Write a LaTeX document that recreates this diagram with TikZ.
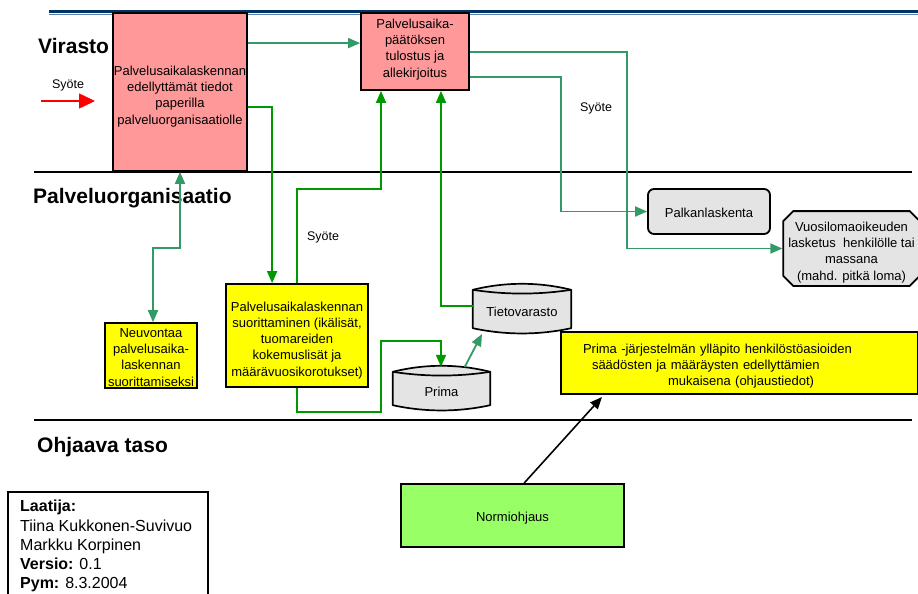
\documentclass[tikz,border=0pt]{standalone}
\usepackage{fontspec}
\setmainfont{Liberation Sans}
\usetikzlibrary{arrows.meta,shapes.misc,calc,backgrounds}
\definecolor{pinkbox}{HTML}{FF9999}
\definecolor{yelbox}{HTML}{FFFF00}
\definecolor{greybox}{HTML}{E4E4E4}
\definecolor{normgreen}{HTML}{99FF66}
\definecolor{seag}{HTML}{339966}
\definecolor{darkg}{HTML}{009900}
\definecolor{navyline}{HTML}{003366}
\definecolor{lightnavy}{HTML}{5A7FA8}
\newcommand\drumshape[1]{%
  \draw[fill=greybox, line width=1.7pt, line join=round]
    ($(#1.north west)+(0,5)$)
      .. controls ($(#1.north west)!0.33!(#1.north east)+(0,-3)$) and ($(#1.north west)!0.67!(#1.north east)+(0,-3)$) ..
    ($(#1.north east)+(0,5)$) -- ($(#1.south east)+(0,-4)$)
      .. controls ($(#1.south west)!0.67!(#1.south east)+(0,3)$) and ($(#1.south west)!0.33!(#1.south east)+(0,3)$) ..
    ($(#1.south west)+(0,-4)$) -- cycle;
  \draw[line width=1.7pt]
    ($(#1.north west)+(0,5)$)
      .. controls ($(#1.north west)!0.33!(#1.north east)+(0,10)$) and ($(#1.north west)!0.67!(#1.north east)+(0,10)$) ..
    ($(#1.north east)+(0,5)$);
}
\newcommand\lowered[2]{\raisebox{-#1}[\height][\depth]{#2}}
\begin{document}
\begin{tikzpicture}[x=1pt,y=-1pt,
  box/.style={draw=black, line width=1.8pt, inner sep=0pt, align=center,
    font=\fontsize{13}{16.2}\selectfont},
  plain/.style={inner sep=0pt, align=center, font=\fontsize{13}{16.2}\selectfont},
  lanelabel/.style={inner sep=0pt, anchor=base west, font=\fontsize{21}{24}\selectfont\bfseries},
  syote/.style={inner sep=0pt, font=\fontsize{12.5}{15}\selectfont},
  tip/.style={-{Triangle[length=12pt,width=10pt]}},
  sgline/.style={draw=seag, line width=1.8pt, tip},
  dgline/.style={draw=darkg, line width=1.8pt, tip},
  sep/.style={draw=black, line width=1.8pt}
]
\useasboundingbox (0,0) rectangle (918,594);

% top rule and lane separators
\draw[navyline, line width=3.2pt] (49,11.5) -- (918,11.5);
\draw[lightnavy, line width=1pt] (49,14.8) -- (918,14.8);
\draw[sep] (34,172) -- (912,172);
\draw[sep] (34,420) -- (912,420);

% lane labels
\node[lanelabel] (lvir) at (38,53) {Virasto};
\node[lanelabel] (lpal) at (33,203) {Palveluorganisaatio};
\node[lanelabel] (lohj) at (37,452) {Ohjaava taso};

% input arrow
\node[syote] (syo1) at (68,85) {Syöte};
\coordinate (sin) at (41,101);
\coordinate (sout) at (95,101);
\draw[red, line width=1.5pt, -{Triangle[length=16pt,width=15pt]}] (sin) -- (sout);

% boxes
\node[box, fill=pinkbox, minimum width=134pt, minimum height=158pt] (b1) at (180,92)
  {\lowered{4.5pt}{\begin{tabular}{@{}c@{}}Palvelusaikalaskennan\\edellyttämät tiedot\\paperilla\\palveluorganisaatiolle\end{tabular}}};
\node[box, fill=pinkbox, minimum width=108pt, minimum height=77pt] (b2) at (415,51.5)
  {\lowered{-2pt}{\begin{tabular}{@{}c@{}}Palvelusaika-\\päätöksen\\tulostus ja\\allekirjoitus\end{tabular}}};
\node[box, fill=greybox, rounded corners=6pt, minimum width=122pt, minimum height=45pt] (palk) at (709,211.5)
  {\lowered{1.5pt}{Palkanlaskenta}};
\node[box, fill=greybox, chamfered rectangle, chamfered rectangle xsep=5pt, chamfered rectangle ysep=5pt,
  minimum width=133pt, minimum height=73pt] (vuosi) at (851.5,248.5)
  {\lowered{4pt}{\begin{tabular}{@{}c@{}}Vuosilomaoikeuden\\lasketus\ \ henkilölle tai\\massana\\(mahd. pitkä loma)\end{tabular}}};
\node[box, fill=yelbox, minimum width=92pt, minimum height=63pt] (neuv) at (151,355.5)
  {\lowered{3pt}{\begin{tabular}{@{}c@{}}Neuvontaa\\palvelusaika-\\laskennan\\suorittamiseksi\end{tabular}}};
\node[box, fill=yelbox, minimum width=142pt, minimum height=103pt] (yel2) at (297,335.5)
  {\lowered{5pt}{\begin{tabular}{@{}c@{}}Palvelusaikalaskennan\\suorittaminen (ikälisät,\\tuomareiden\\kokemuslisät ja\\määrävuosikorotukset)\end{tabular}}};
\node[box, fill=yelbox, minimum width=357pt, minimum height=62pt, text width=313pt, align=left, inner xsep=22pt] (ybig) at (739.5,363)
  {\lowered{3pt}{\begin{tabular}{@{}l@{}}Prima -järjestelmän ylläpito henkilöstöasioiden\\
   \hspace*{9pt}säädösten ja määräysten edellyttämien\\
   \hspace*{85pt}mukaisena (ohjaustiedot)\end{tabular}}};
\node[box, fill=normgreen, minimum width=223pt, minimum height=63pt] (norm) at (512.5,515.5)
  {\lowered{3pt}{Normiohjaus}};

% drums
\node[plain, minimum width=97pt, minimum height=42pt] (prima) at (441.5,388) {\lowered{4pt}{Prima}};
\node[plain, minimum width=98pt, minimum height=47pt] (tieto) at (522,308.5) {\lowered{3.5pt}{Tietovarasto}};
\begin{scope}[on background layer]
  \drumshape{prima}
  \drumshape{tieto}
\end{scope}

% author box
\draw[black, line width=1.8pt] (8,492) rectangle (208,604);
\node[inner sep=0pt, anchor=north west, align=left, font=\fontsize{16}{19.2}\selectfont] (author) at (20,500)
  {\textbf{Laatija:}\\Tiina Kukkonen-Suvivuo\\Markku Korpinen\\\textbf{Versio:} 0.1\\\textbf{Pym:} 8.3.2004};

% labels
\node[syote] (syo2) at (596,108) {Syöte};
\node[syote] (syo3) at (323,237) {Syöte};

% waypoints
\coordinate (w1) at (381,189);
\coordinate (w2) at (441,0);
\coordinate (w3) at (627,52);
\coordinate (w4) at (561,77);
\coordinate (w5) at (153,248);
\coordinate (w6) at (381,412);
\coordinate (w7) at (441,341);
\coordinate (tt) at (482,334);
\coordinate (tipN) at (602,397);

% connectors
\draw[sgline] ([yshift=-31pt]b1.north east) -- ([yshift=-31pt]b2.north west);
\draw[dgline] ([yshift=-95pt]b1.north east) -| ([xshift=47pt]yel2.north west);
\draw[dgline] (yel2.north) |- (w1) -- (w1 |- b2.south);
\draw[dgline] ([yshift=2.5pt]tieto.west) -| (w2 |- b2.south);
\draw[sgline] (b2.east |- w3) -| (w3 |- vuosi.west) -- (vuosi.west);
\draw[sgline] (b2.east |- w4) -| (w4 |- palk.west) -- (palk.west);
\draw[draw=seag, line width=1.8pt, {Triangle[length=12pt,width=10pt]}-{Triangle[length=12pt,width=10pt]}]
  (b1.south) |- (w5) -- (w5 |- neuv.north);
\draw[dgline] (yel2.south) |- (w6) |- (w7) -- (w7 |- prima.north);
\draw[sgline] ([xshift=72pt]prima.north west) -- (tt);
\draw[black, line width=1.6pt, tip] ([xshift=124pt]norm.north west) -- (tipN);
\end{tikzpicture}
\end{document}
